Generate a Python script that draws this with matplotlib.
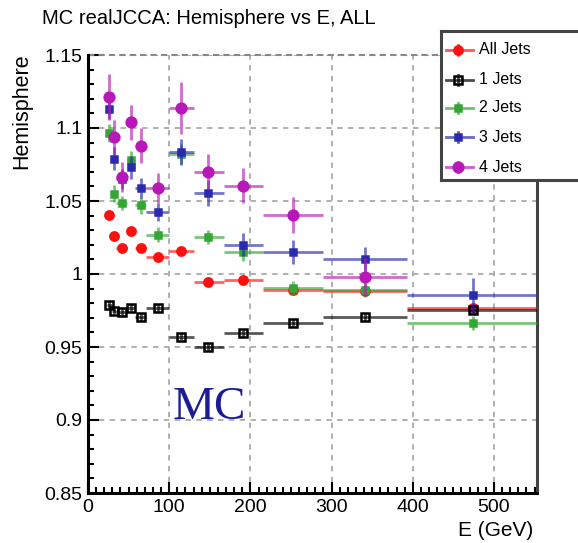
import matplotlib
matplotlib.use('Agg')
import matplotlib.pyplot as plt
import numpy as np
from matplotlib.ticker import MultipleLocator
from matplotlib.patches import Rectangle

plt.rcParams['font.family'] = ['Liberation Sans', 'DejaVu Sans']

# bin centres and edges (GeV)
E = [26, 32, 42, 53, 65, 86, 115, 148, 191, 253, 341, 474]
E_lo = [23, 29, 35, 48, 58, 72, 100, 130, 167, 215, 290, 393]
E_hi = [29, 35, 48, 58, 72, 100, 130, 167, 215, 290, 393, 555]

all_jets = [1.0404, 1.026, 1.0178, 1.0294, 1.0178, 1.0116, 1.0160, 0.9945, 0.9958, 0.9890, 0.9885, 0.9770]
all_err = [0.0025, 0.0022, 0.002, 0.002, 0.002, 0.0018, 0.002, 0.002, 0.002, 0.002, 0.002, 0.002]
one_jet = [0.979, 0.975, 0.974, 0.977, 0.9705, 0.9767, 0.957, 0.950, 0.9596, 0.9664, 0.9705, 0.9753]
one_err = [0.0025] * 12
two_jets = [1.0966, 1.055, 1.0486, 1.078, 1.047, 1.027, 1.082, 1.0253, 1.015, 0.9904, 0.989, 0.9665]
two_err = [0.006, 0.006, 0.005, 0.006, 0.006, 0.005, 0.007, 0.005, 0.006, 0.005, 0.005, 0.005]
three_jets = [1.113, 1.079, 1.065, 1.073, 1.059, 1.0425, 1.0836, 1.0555, 1.020, 1.015, 1.0103, 0.9856]
three_err = [0.007, 0.008, 0.007, 0.008, 0.007, 0.006, 0.009, 0.009, 0.008, 0.008, 0.008, 0.012]
four_jets = [1.1213, 1.0938, 1.0665, 1.104, 1.088, 1.0589, 1.1137, 1.070, 1.0603, 1.0404, 0.998]
four_err = [0.016, 0.012, 0.010, 0.012, 0.012, 0.010, 0.018, 0.012, 0.012, 0.012, 0.013]

labels = ['All Jets', '1 Jets', '2 Jets', '3 Jets', '4 Jets']
colors = ['#ff1010', '#000000', '#33a633', '#2a2aae', '#b818b8']

W, H = 578, 543
fig = plt.figure(figsize=(W / 100, H / 100), dpi=100)
ax = fig.add_axes([88 / W, 1 - 493 / H, (537 - 88) / W, (493 - 55) / H])

series = [(all_jets, all_err, 'o', 6, 'full'),
          (one_jet, one_err, 's', 6, 'none'),
          (two_jets, two_err, 's', 4.5, 'full'),
          (three_jets, three_err, 's', 5, 'full'),
          (four_jets, four_err, 'o', 7, 'full')]

for i, (vals, errs, mk, ms, fill) in enumerate(series):
	n = len(vals)
	x = np.array(E[:n])
	xerr = [x - np.array(E_lo[:n]), np.array(E_hi[:n]) - x]
	c = colors[i]
	ax.errorbar(x, vals, yerr=errs, xerr=xerr, fmt='none', ecolor=c, elinewidth=2,
		alpha=0.65, capsize=0, zorder=3 + i)
	ax.plot(x, vals, linestyle='none', marker=mk, markersize=ms, color=c,
		markerfacecolor=(c if fill == 'full' else 'none'), markeredgewidth=1.8, zorder=3.5 + i)

ax.set_xlim(0, 553)
ax.set_ylim(0.85, 1.15)
ax.xaxis.set_major_locator(MultipleLocator(100))
ax.xaxis.set_minor_locator(MultipleLocator(10))
ax.yaxis.set_major_locator(MultipleLocator(0.05))
ax.yaxis.set_minor_locator(MultipleLocator(0.01))
ax.set_yticks([0.85, 0.9, 0.95, 1.0, 1.05, 1.1, 1.15])
ax.set_yticklabels(['0.85', '0.9', '0.95', '1', '1.05', '1.1', '1.15'])
ax.set_xticklabels([])
ax.set_xticks([0, 100, 200, 300, 400, 500])
ax.set_xticklabels(['0', '100', '200', '300', '400', '500'])
ax.tick_params(which='both', direction='in', labelsize=14, width=1.5)
ax.tick_params(which='major', length=8)
ax.tick_params(which='minor', length=4)
ax.tick_params(axis='y', pad=4)
ax.tick_params(axis='x', pad=4)
ax.grid(True, which='major', color='#aaaaaa', linestyle=(0, (3, 3)), linewidth=1.3)
ax.axhline(1.15, color='#888888', linestyle=(0, (3, 2)), linewidth=1.5, clip_on=False)
ax.spines['top'].set_visible(False)
ax.spines['left'].set_linewidth(2.2)
ax.spines['bottom'].set_linewidth(2.2)
ax.spines['right'].set_color('#444444')
ax.spines['right'].set_linewidth(2.2)

ax.text(0.189, 0.195, 'MC', transform=ax.transAxes, fontsize=34, color='#1c1c96',
	family=['Liberation Serif', 'DejaVu Serif'], ha='left', va='center')

fig.text(42 / W, 1 - 18 / H, 'MC realJCCA: Hemisphere vs E, ALL', fontsize=14.5,
	ha='left', va='center')
fig.text(22 / W, 1 - 53 / H, 'Hemisphere', fontsize=15.5, rotation=90, ha='center', va='top')
fig.text(533 / W, 1 - 530 / H, 'E (GeV)', fontsize=15, ha='right', va='center')

# legend box (runs off the right edge like the original)
leg = fig.add_axes([441 / W, 1 - 180 / H, (620 - 441) / W, (180 - 31) / H], zorder=10)
leg.set_xlim(441, 620)
leg.set_ylim(180, 31)
leg.set_xticks([])
leg.set_yticks([])
for s in ['left', 'top', 'bottom']:
	leg.spines[s].set_color('#444444')
	leg.spines[s].set_linewidth(2.2)
leg.spines['right'].set_visible(False)
rows = [50, 80, 108, 137, 167]
for i, (vals, errs, mk, ms, fill) in enumerate(series):
	c = colors[i]
	leg.plot([446, 473], [rows[i], rows[i]], color=c, lw=2, alpha=0.7)
	leg.plot([458, 458], [rows[i] - 5, rows[i] + 5], color=c, lw=2, alpha=0.7)
	leg.plot([458], [rows[i]], marker=mk, markersize=ms, color=c,
		markerfacecolor=(c if fill == 'full' else 'none'), markeredgewidth=1.8)
	leg.text(479, rows[i], labels[i], fontsize=11.5, ha='left', va='center')

fig.savefig('out.png', dpi=100)
